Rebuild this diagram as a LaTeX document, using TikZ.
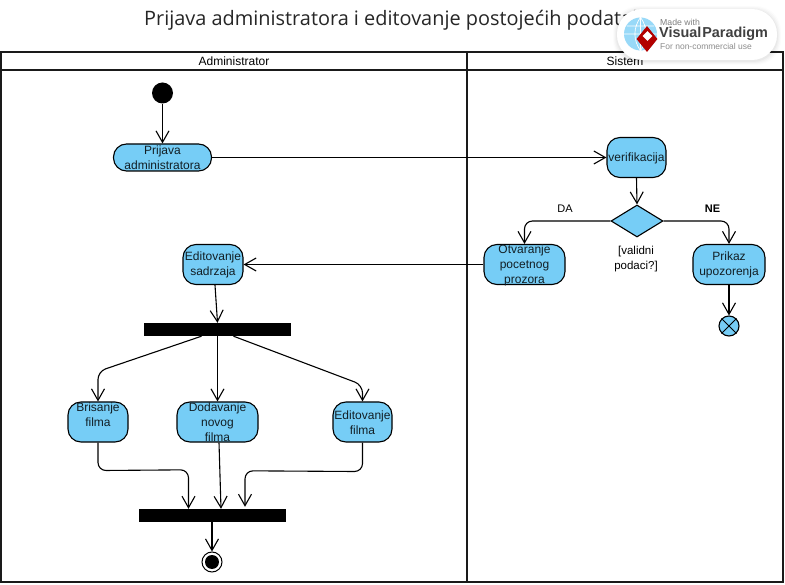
\documentclass[tikz,border=0pt]{standalone}
\usepackage{fontspec}
\setmainfont{Liberation Sans}
\newfontfamily\titlefont{Open Sans}
\usetikzlibrary{arrows.meta,shapes.geometric,calc}
\definecolor{actblue}{HTML}{76CDF6}
\definecolor{frameblk}{HTML}{1A1A1A}
\tikzset{
  x=1pt,y=-1pt,
  act/.style={draw=black,line width=1.1pt,fill=actblue,rounded corners=#1,inner sep=0pt},
  act/.default=13pt,
  acttext/.style={font=\fontsize{12}{15}\selectfont,align=center,inner sep=0pt,text=black!85!actblue},
  flow/.style={draw=black,line width=1.1pt,-{Straight Barb[length=11.5pt,width=13pt,line width=1.1pt]}},
  bar/.style={fill=black,inner sep=0pt,minimum height=13pt,minimum width=147pt},
  lane/.style={draw=frameblk,line width=1.9pt,inner sep=0pt},
  lanetext/.style={font=\fontsize{12}{14}\selectfont,inner sep=0pt},
  guard/.style={font=\fontsize{11}{15}\selectfont,align=center,inner sep=0pt},
  wm/.style={inner sep=0pt,anchor=west}
}
\newcommand{\actnode}[6]{%
  \node[act,minimum width=#4 pt,minimum height=#5 pt] (#1) at (#2,#3) {};
  \node[acttext] (#1t) at (#2,#3+0.5) {#6};}
\begin{document}
\begin{tikzpicture}
\useasboundingbox (0,0) rectangle (785,585);
\fill[white] (0,0) rectangle (785,585);

\node[inner sep=0pt,anchor=west,text=black!85,font=\titlefont\fontsize{19.9}{24}\selectfont] (title) at (144,20) {Prijava administratora i editovanje postojećih podataka};

% swimlanes
\node[lane,minimum width=466pt,minimum height=18pt] (h1) at (234,61) {};
\node[lane,minimum width=316pt,minimum height=18pt] (h2) at (625,61) {};
\node[lane,minimum width=466pt,minimum height=512pt] (b1) at (234,326) {};
\node[lane,minimum width=316pt,minimum height=512pt] (b2) at (625,326) {};
\node[lanetext] (h1t) at (234,61) {Administrator};
\node[lanetext] (h2t) at (625,61) {Sistem};

% nodes
\node[circle,fill=black,inner sep=0pt,minimum size=21pt] (start) at (162.5,93) {};
\actnode{prijava}{162.5}{157.5}{98}{27}{Prijava\\administratora}
\actnode{verif}{636.5}{157.5}{59}{40}{verifikacija}
\node[diamond,draw=black,line width=1.1pt,fill=actblue,inner sep=0pt,minimum width=52pt,minimum height=32pt,aspect=1.6] (dec) at (637,221) {};
\actnode{otv}{524.5}{264.5}{81}{40}{Otvaranje\\pocetnog\\prozora}
\actnode{prikaz}{729}{264.5}{72}{40}{Prikaz\\upozorenja}
\node[circle,draw=black,line width=1.1pt,fill=actblue,inner sep=0pt,minimum size=20pt] (ff) at (729,326) {};
\draw[line width=1pt] (ff.north west) -- (ff.south east) (ff.north east) -- (ff.south west);
\actnode{edsad}{213}{264.5}{60}{40}{Editovanje\\sadrzaja}
\node[bar] (f1) at (217.5,329.5) {};
\actnode{bris}{98}{422}{60}{40}{Brisanje\\filma\\~}
\actnode{dod}{217.5}{422}{81}{40}{Dodavanje\\novog\\filma}
\actnode{edf}{362.5}{422}{59}{40}{Editovanje\\filma}
\node[bar] (f2) at (212.5,515.5) {};
\node[circle,draw=black,line width=1pt,fill=white,inner sep=0pt,minimum size=20pt] (endo) at (212,562) {};
\node[circle,fill=black,inner sep=0pt,minimum size=14pt] (endi) at (212,562) {};

% connectors
\draw[flow] (start) -- (prijava.north);
\draw[flow] (prijava.east) -- (prijava.east -| verif.west);
\draw[flow] (verif.south) -- (dec.north);
\draw[flow,rounded corners=8pt] (dec.west) -| (otv.north);
\draw[flow,rounded corners=8pt] (dec.east) -| (prikaz.north);
\draw[flow] (prikaz.south) -- (ff.north);
\draw[flow] (otv.west) -- (edsad.east);
\draw[flow] ($(edsad.south)+(2,0)$) -- (f1.north);
\draw[flow,rounded corners=8pt] ($(f1.south)+(-16,0)$) -- ($(bris.north)+(0,-30)$) -- (bris.north);
\draw[flow] (f1.south) -- (dod.north);
\draw[flow,rounded corners=8pt] ($(f1.south)+(16,0)$) -- ($(edf.north)+(0,-16.5)$) -- (edf.north);
\draw[flow,rounded corners=8pt] (bris.south) -- ($(bris.south)+(0,28)$) -- ($(f2.north)+(-24,-39)$) -- ($(f2.north)+(-24,0)$);
\draw[flow] ($(dod.south)+(1.5,0)$) -- ($(f2.north)+(8.5,0)$);
\draw[flow,rounded corners=8pt] (edf.south) -- ($(edf.south)+(0,29)$) -- ($(f2.north)+(32.5,-38)$) -- ($(f2.north)+(32.5,-2)$);
\draw[flow] ($(f2.south)+(-0.5,0)$) -- (endo.north);

% guards
\node[guard] (da) at (565,209) {DA};
\node[guard,font=\fontsize{11}{15}\selectfont\bfseries] (ne) at (712.5,209) {NE};
\node[guard,font=\fontsize{11.5}{15}\selectfont] (val) at (636,259) {[validni\\podaci?]};

% watermark
\foreach \s/\o in {4/0.012,3/0.018,2/0.025,1/0.03}
  \fill[black,opacity=\o,rounded corners=25pt] ({617-\s},{10-\s}) rectangle ({777+\s},{61+\s});
\path[fill=white,rounded corners=25pt] (617,9) rectangle (777,60);
\node[circle,fill=actblue!75,inner sep=0pt,minimum size=33pt] (globe) at (640.5,34) {};
\draw[white,line width=0.7pt] (globe.west) -- (globe.east) (globe.north) -- (globe.south)
  (globe.north) to[bend right=35] (globe.south) (globe.north) to[bend left=35] (globe.south)
  ($(globe.west)+(3,-8)$) -- ($(globe.east)+(-3,-8)$);
\node[diamond,fill=red!70!black,inner sep=0pt,minimum width=21pt,minimum height=26pt] (logo) at (647,39) {};
\node[diamond,fill=white,inner sep=0pt,minimum size=10pt,aspect=1] (logoi) at (647.5,36) {};
\node[wm,text=black!50,font=\fontsize{8.7}{10}\selectfont] (w1) at (660,22) {Made with};
\node[wm,text=black!75,font=\fontsize{14.4}{18}\selectfont\bfseries] (w2) at (659,33.5) {Visual\kern1pt Paradigm};
\node[wm,text=black!45,font=\fontsize{8.5}{10}\selectfont] (w3) at (660,46) {For non-commercial use};
\end{tikzpicture}
\end{document}
